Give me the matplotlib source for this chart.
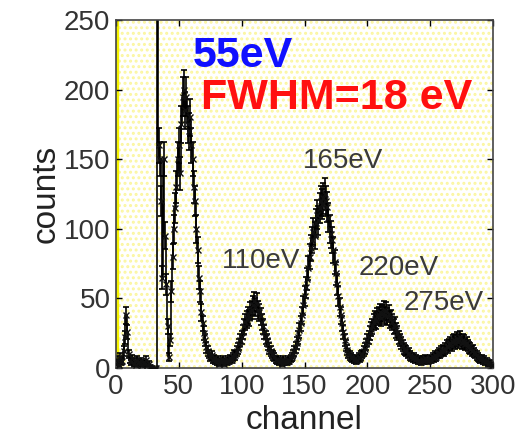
import matplotlib
matplotlib.use("Agg")
import matplotlib.pyplot as plt
import numpy as np
from matplotlib.patches import Rectangle

plt.rcParams['font.family'] = ['Liberation Sans', 'DejaVu Sans']
plt.rcParams['hatch.linewidth'] = 1.4

# counts per channel (channel 0 .. 300)
counts = [
    3, 6, 2, 8, 4, 5, 12, 22, 38, 26,
    10, 6, 4, 7, 3, 5, 2, 6, 4, 3,
    5, 2, 4, 3, 6, 2, 3, 1, 0, 0,
    0, 0, 0, 700, 160, 150, 120, 65, 150, 95,
    60, 30, 8, 20, 55, 80, 100, 115, 130, 150,
    160, 140, 175, 195, 200, 185, 195, 175, 170, 180,
    160, 150, 130, 120, 100, 85, 65, 55, 40, 32,
    25, 20, 15, 12, 10, 8, 9, 6, 7, 5,
    4, 6, 3, 5, 4, 6, 3, 5, 4, 6,
    5, 7, 6, 8, 10, 9, 12, 14, 17, 20,
    22, 26, 30, 33, 35, 38, 36, 41, 42, 45,
    48, 44, 47, 42, 40, 37, 33, 30, 26, 22,
    20, 17, 14, 12, 10, 9, 8, 6, 5, 6,
    4, 5, 3, 6, 4, 5, 4, 6, 5, 7,
    8, 10, 12, 15, 18, 22, 27, 32, 38, 45,
    52, 58, 64, 72, 80, 86, 92, 98, 95, 104,
    110, 106, 115, 120, 118, 122, 125, 120, 116, 108,
    100, 96, 92, 85, 76, 68, 60, 52, 44, 38,
    32, 26, 20, 16, 13, 10, 9, 8, 7, 6,
    7, 5, 6, 8, 7, 9, 10, 12, 14, 17,
    20, 22, 25, 28, 30, 33, 35, 34, 37, 38,
    40, 36, 39, 42, 38, 41, 37, 39, 35, 36,
    33, 30, 31, 27, 25, 22, 20, 18, 16, 14,
    13, 12, 10, 11, 9, 8, 7, 8, 6, 7,
    5, 6, 5, 4, 6, 5, 7, 6, 5, 6,
    7, 6, 8, 7, 9, 8, 10, 11, 10, 12,
    13, 12, 14, 16, 15, 17, 18, 16, 19, 20,
    18, 21, 19, 20, 22, 18, 20, 19, 17, 18,
    16, 15, 14, 12, 13, 11, 10, 9, 8, 7,
    6, 7, 5, 6, 4, 5, 3, 4, 3, 2,
    2,
]
channel = np.arange(len(counts))

peak_labels = ['110eV', '165eV', '220eV', '275eV']
peak_label_pos = [(84, 77), (181, 149), (193, 72), (229, 47)]

fig = plt.figure(figsize=(5.18, 4.47), dpi=100)
ax = fig.add_axes([116 / 518, 79 / 447, 377 / 518, 348 / 447])

# pale dotted yellow background
ax.set_facecolor('#ffffff')
ax.add_patch(Rectangle((0, 0), 1, 1, transform=ax.transAxes, facecolor='none',
                       edgecolor='#fbf6a0', hatch='...', lw=0, zorder=0))
ax.axvspan(0, 1.6, color='#f5f200', zorder=0.5)

y = np.array(counts, dtype=float)
ax.plot(channel, y, drawstyle='steps-mid', color='k', lw=1.2, zorder=2)
ax.errorbar(channel, y, yerr=np.sqrt(y), fmt='none', ecolor='k',
            elinewidth=1.2, capsize=2.5, capthick=1.2, zorder=2)
ax.plot(channel, y, 'x', color='#111111', ms=5, mew=1.0, zorder=3)

ax.set_xlim(0, 300)
ax.set_ylim(0, 250)
ax.set_xticks(range(0, 301, 50))
ax.set_yticks(range(0, 251, 50))
ax.tick_params(direction='in', top=True, right=True, length=4, width=1,
               labelsize=20, labelcolor='#333333', pad=4)
for s in ax.spines.values():
    s.set_color('#444444')
    s.set_linewidth(1.2)

ax.set_xlabel('channel', fontsize=24, color='#222222', labelpad=4)
ax.set_ylabel('counts', fontsize=24, color='#222222', labelpad=2)

ax.text(61, 224, '55eV', fontsize=31, fontweight='bold', color='#1010ff',
        va='center', ha='left')
ax.text(68, 194, 'FWHM=18 eV', fontsize=31, fontweight='bold', color='#ff1010',
        va='center', ha='left')
for lab, (px, py) in zip(peak_labels, peak_label_pos):
    ha = 'center' if lab == '165eV' else 'left'
    ax.text(px, py, lab, fontsize=20, color='#3a3a3a', va='center', ha=ha)

fig.savefig('out.png', dpi=100)
